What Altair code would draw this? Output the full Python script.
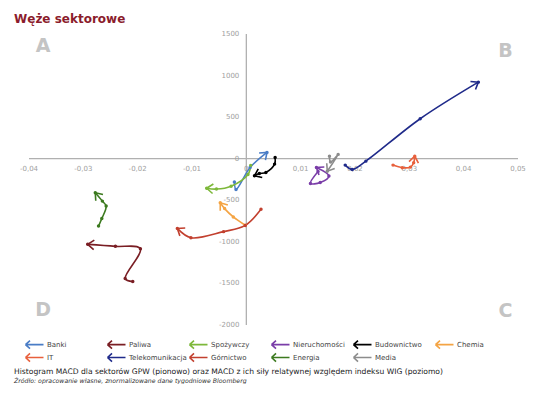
import math
import altair as alt
import pandas as pd

series = ["Banki", "Paliwa", "Spożywczy", "Nieruchomości", "Budownictwo", "Chemia",
          "IT", "Telekomunikacja", "Górnictwo", "Energia", "Media"]
colors = ["#4A7DC6", "#7A1E24", "#7DB83A", "#7A3DA8", "#000000", "#F4A444",
          "#E8603C", "#1F2A8A", "#C2402F", "#3C7A1F", "#8C8C8C"]

# x: MACD of relative strength vs WIG, y: MACD histogram
banki_x = [-0.0022, -0.0019, 0.0007, 0.0038]
banki_y = [-281, -369, -105, 76]
paliwa_x = [-0.0209, -0.0223, -0.0195, -0.0241, -0.0292]
paliwa_y = [-1478, -1442, -1082, -1054, -1030]
spoz_x = [0.0008, 0.0003, -0.0028, -0.0055, -0.0073]
spoz_y = [-80, -190, -330, -365, -355]
nier_x = [0.0132, 0.0118, 0.0136, 0.0152, 0.0129]
nier_y = [-153, -297, -285, -207, -105]
bud_x = [0.0053, 0.0052, 0.0036, 0.0024, 0.0015]
bud_y = [15, -65, -165, -178, -205]
chem_x = [-0.0002, -0.0024, -0.0040, -0.0048]
chem_y = [-800, -700, -600, -530]
it_x = [0.0270, 0.0287, 0.0302, 0.0308, 0.0310]
it_y = [-77, -108, -101, -48, 31]
tele_x = [0.0182, 0.0195, 0.0220, 0.0320, 0.0427]
tele_y = [-77, -129, -29, 481, 921]
gorn_x = [0.0027, -0.0002, -0.0042, -0.0102, -0.0127]
gorn_y = [-609, -802, -877, -950, -838]
ener_x = [-0.0272, -0.0266, -0.0258, -0.0265, -0.0278]
ener_y = [-810, -720, -570, -510, -410]
media_x = [0.0153, 0.0155, 0.0169, 0.0149]
media_y = [31, -40, 52, -150]

xs = [banki_x, paliwa_x, spoz_x, nier_x, bud_x, chem_x, it_x, tele_x, gorn_x, ener_x, media_x]
ys = [banki_y, paliwa_y, spoz_y, nier_y, bud_y, chem_y, it_y, tele_y, gorn_y, ener_y, media_y]

x_ticks = [-0.04, -0.03, -0.02, -0.01, 0, 0.01, 0.02, 0.03, 0.04, 0.05]
x_tick_labels = ["-0,04", "-0,03", "-0,02", "-0,01", "0", "0,01", "0,02", "0,03", "0,04", "0,05"]
y_ticks = [1500, 1000, 500, 0, -500, -1000, -1500, -2000]
y_tick_labels = ["1500", "1000", "500", "0", "-500", "-1000", "-1500", "-2000"]

quad_labels = ["A", "B", "C", "D"]
quad_x = [-0.0374, 0.0477, 0.0477, -0.0374]
quad_y = [1350, 1300, -1830, -1825]

W, H = 489, 291
XD = [-0.04, 0.05]
YD = [-2000, 1500]

rows, heads = [], []
for s, sx, sy in zip(series, xs, ys):
    for i, (a, b) in enumerate(zip(sx, sy)):
        rows.append({"series": s, "order": i, "x": a, "y": b})
    dx = (sx[-1] - sx[-2]) * W / (XD[1] - XD[0])
    dy = -(sy[-1] - sy[-2]) * H / (YD[1] - YD[0])
    ang = math.degrees(math.atan2(dy, dx)) % 360
    heads.append({"series": s, "x": sx[-1], "y": sy[-1], "angle": ang})
df = pd.DataFrame(rows)
hd = pd.DataFrame(heads)

xsc = alt.Scale(domain=XD, nice=False, zero=False)
ysc = alt.Scale(domain=YD, nice=False, zero=False)
csc = alt.Scale(domain=series, range=colors)
FONT = "DejaVu Sans"

hline = alt.Chart(pd.DataFrame({"x": [XD[0]], "x2": [XD[1]], "y": [0]})).mark_rule(
    color="#B0B0B0", strokeWidth=1.3).encode(
    x=alt.X("x:Q", scale=xsc, axis=None), x2="x2:Q", y=alt.Y("y:Q", scale=ysc, axis=None))
vline = alt.Chart(pd.DataFrame({"y": [YD[0]], "y2": [YD[1]], "x": [0]})).mark_rule(
    color="#B0B0B0", strokeWidth=1.3).encode(
    y=alt.Y("y:Q", scale=ysc, axis=None), y2="y2:Q", x=alt.X("x:Q", scale=xsc, axis=None))

xlab = alt.Chart(pd.DataFrame({"x": x_ticks, "t": x_tick_labels, "y": [0] * len(x_ticks)})).mark_text(
    font=FONT, fontSize=7, color="#A0A0A0", dy=10, baseline="middle").encode(
    x=alt.X("x:Q", scale=xsc, axis=None), y=alt.Y("y:Q", scale=ysc, axis=None), text="t:N")
ylab = alt.Chart(pd.DataFrame({"y": y_ticks, "t": y_tick_labels, "x": [0] * len(y_ticks)})).mark_text(
    font=FONT, fontSize=7, color="#A0A0A0", dx=-7, align="right", baseline="middle").encode(
    x=alt.X("x:Q", scale=xsc, axis=None), y=alt.Y("y:Q", scale=ysc, axis=None), text="t:N")

quad = alt.Chart(pd.DataFrame({"x": quad_x, "y": quad_y, "t": quad_labels})).mark_text(
    font=FONT, fontSize=19, fontWeight="bold", color="#C4C4C4").encode(
    x=alt.X("x:Q", scale=xsc, axis=None), y=alt.Y("y:Q", scale=ysc, axis=None), text="t:N")

legend_arrow = "M-2,0L2,0M-2,0L-1,-0.9M-2,0L-1,0.9"

lines = alt.Chart(df).mark_line(interpolate="catmull-rom", strokeWidth=1.6).encode(
    x=alt.X("x:Q", scale=xsc, axis=None),
    y=alt.Y("y:Q", scale=ysc, axis=None),
    order="order:Q",
    color=alt.Color("series:N", scale=csc, legend=alt.Legend(
        title=None, orient="none", legendX=0, legendY=305, direction="horizontal",
        columns=6, symbolType=legend_arrow, symbolSize=81, symbolStrokeWidth=1.6,
        labelFont=FONT, labelFontSize=7, labelColor="#444444", labelOffset=7,
        columnPadding=-1, rowPadding=-4, gridAlign="all")),
)
dots = alt.Chart(df).mark_circle(size=12, opacity=1).encode(
    x=alt.X("x:Q", scale=xsc, axis=None), y=alt.Y("y:Q", scale=ysc, axis=None),
    color=alt.Color("series:N", scale=csc, legend=None))
arrows = alt.Chart(hd).mark_point(shape="M-1,-0.75L0,0L-1,0.75", filled=False, size=160,
                                  strokeWidth=1.6, opacity=1).encode(
    x=alt.X("x:Q", scale=xsc, axis=None), y=alt.Y("y:Q", scale=ysc, axis=None),
    angle=alt.Angle("angle:Q", scale=None),
    color=alt.Color("series:N", scale=csc, legend=None))

main = alt.layer(hline, vline, xlab, ylab, quad, lines, dots, arrows).properties(
    width=W, height=H,
    title=alt.TitleParams("Węże sektorowe", anchor="start", frame="group", dx=-15, fontSize=12,
                          font=FONT, fontWeight="bold", color="#8B1C2C", offset=4))

chart = alt.vconcat(main).properties(
    padding={"left": 6, "top": 5, "right": 0, "bottom": 0},
    title=alt.TitleParams(
        "Histogram MACD dla sektorów GPW (pionowo) oraz MACD z ich siły relatywnej względem indeksu WIG (poziomo)",
        subtitle="Źródło: opracowanie własne, znormalizowane dane tygodniowe Bloomberg",
        orient="bottom", anchor="start", frame="group", dx=-15, fontSize=7.6, font=FONT,
        fontWeight="normal", color="#222222", subtitleFont=FONT, subtitleFontSize=6.2,
        subtitleFontStyle="italic", subtitleColor="#333333", subtitlePadding=2, offset=3)
).configure_view(stroke=None)

chart.save("out.html", embed_options={"renderer": "svg", "actions": False})
